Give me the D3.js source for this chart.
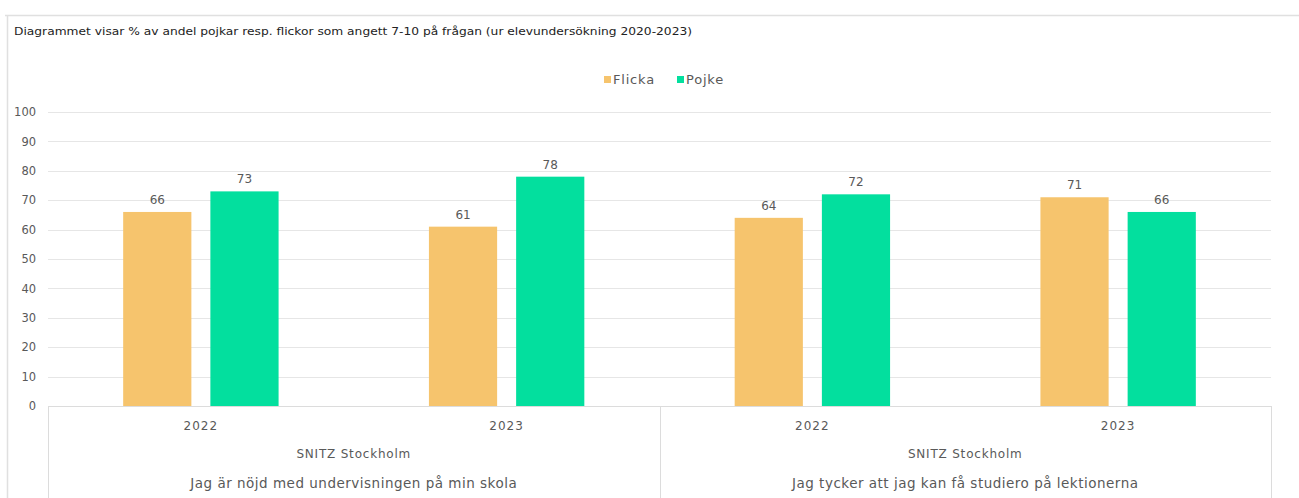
<!DOCTYPE html>
<html>
<head>
<meta charset="utf-8">
<script src="https://cdn.jsdelivr.net/npm/d3@7"></script>
<style>
  body { margin: 0; background: #fff; }
  svg { display: block; font-family: 'DejaVu Sans', sans-serif; }
  .grid line { stroke: #e6e6e6; }
  .tick text { fill: #595959; }
</style>
</head>
<body>
<svg width="1299" height="498"></svg>
<script>
const title = 'Diagrammet visar % av andel pojkar resp. flickor som angett 7-10 på frågan (ur elevundersökning 2020-2023)';
const series = ['Flicka', 'Pojke'];
const colors = ['#f6c46d', '#03df9e'];
const years = ['2022', '2023', '2022', '2023'];
const regions = ['SNITZ Stockholm', 'SNITZ Stockholm'];
const questions = ['Jag är nöjd med undervisningen på min skola', 'Jag tycker att jag kan få studiero på lektionerna'];
const flicka = [66, 61, 64, 71];
const pojke = [73, 78, 72, 66];
const yTicks = [0, 10, 20, 30, 40, 50, 60, 70, 80, 90, 100];

const values = [flicka, pojke];
const svg = d3.select('svg');

// frame
svg.append('path')
    .attr('d', 'M5,15.5H1299M7.5,15V498')
    .attr('fill', 'none')
    .attr('stroke', '#e0e0e0')
    .attr('stroke-width', 1.5);

svg.append('text')
    .attr('x', 14)
    .attr('y', 35)
    .attr('font-size', 10)
    .attr('fill', '#222')
    .attr('textLength', 678)
    .attr('lengthAdjust', 'spacingAndGlyphs')
    .text(title);

const plotLeft = 48, plotRight = 1271, plotTop = 112, plotBottom = 406;

const x0 = d3.scaleBand()
    .domain(d3.range(years.length))
    .range([plotLeft, plotRight]);

const x1 = d3.scaleBand()
    .domain(series)
    .range([0, x0.bandwidth()])
    .paddingInner(0.218)
    .paddingOuter(0.862);

const y = d3.scaleLinear()
    .domain([0, 100])
    .range([plotBottom, plotTop]);

// gridlines
svg.append('g')
    .attr('class', 'grid')
    .selectAll('line')
    .data(yTicks.slice(1))
    .enter().append('line')
    .attr('x1', plotLeft)
    .attr('x2', plotRight)
    .attr('y1', d => Math.round(y(d)) + 0.5)
    .attr('y2', d => Math.round(y(d)) + 0.5);

// y axis
const yAxis = svg.append('g')
    .attr('transform', `translate(${plotLeft - 12},0)`)
    .call(d3.axisLeft(y).tickValues(yTicks).tickSize(0).tickPadding(0));
yAxis.select('.domain').remove();
yAxis.selectAll('text')
    .attr('font-size', 11.5)
    .attr('font-family', 'DejaVu Sans, sans-serif')
    .attr('textLength', d => String(d).length * 7.3)
    .attr('lengthAdjust', 'spacingAndGlyphs');

// bars
const groups = svg.append('g')
    .selectAll('g')
    .data(d3.range(years.length))
    .enter().append('g')
    .attr('transform', i => `translate(${x0(i)},0)`);

groups.selectAll('rect')
    .data(i => series.map((s, k) => ({s, k, v: values[k][i]})))
    .enter().append('rect')
    .attr('x', d => x1(d.s))
    .attr('width', x1.bandwidth())
    .attr('y', d => y(d.v))
    .attr('height', d => y(0) - y(d.v))
    .attr('fill', d => colors[d.k]);

groups.selectAll('text')
    .data(i => series.map((s, k) => ({s, k, v: values[k][i]})))
    .enter().append('text')
    .attr('x', d => x1(d.s) + x1.bandwidth() / 2)
    .attr('y', d => y(d.v) - 8)
    .attr('text-anchor', 'middle')
    .attr('font-size', 12)
    .attr('fill', '#595959')
    .text(d => d.v);

// category axis (multi-level)
const axisLines = svg.append('g')
    .attr('stroke', '#dcdcdc')
    .attr('fill', 'none');
axisLines.append('line')
    .attr('x1', plotLeft).attr('x2', plotRight)
    .attr('y1', plotBottom + 0.5).attr('y2', plotBottom + 0.5);
[0, 2, 4].forEach(i => {
    const xx = i < years.length ? x0(i) : plotRight;
    axisLines.append('line')
        .attr('x1', Math.round(xx) + 0.5).attr('x2', Math.round(xx) + 0.5)
        .attr('y1', plotBottom).attr('y2', 498);
});

svg.append('g')
    .selectAll('text')
    .data(years)
    .enter().append('text')
    .attr('x', (d, i) => x0(i) + x0.bandwidth() / 2)
    .attr('y', 430)
    .attr('text-anchor', 'middle')
    .attr('font-size', 12)
    .attr('letter-spacing', 1)
    .attr('fill', '#595959')
    .text(d => d);

const pairMid = k => (x0(2 * k) + x0(2 * k + 1) + x0.bandwidth()) / 2;

svg.append('g')
    .selectAll('text')
    .data(regions)
    .enter().append('text')
    .attr('x', (d, k) => pairMid(k))
    .attr('y', 458)
    .attr('text-anchor', 'middle')
    .attr('font-size', 12)
    .attr('letter-spacing', 0.8)
    .attr('fill', '#595959')
    .text(d => d);

svg.append('g')
    .selectAll('text')
    .data(questions)
    .enter().append('text')
    .attr('x', (d, k) => pairMid(k))
    .attr('y', 488)
    .attr('text-anchor', 'middle')
    .attr('font-size', 13.5)
    .attr('letter-spacing', 0.5)
    .attr('fill', '#595959')
    .text(d => d);

// legend
const legend = svg.append('g');
const legendX = [604, 677];
series.forEach((s, k) => {
    legend.append('rect')
        .attr('x', legendX[k])
        .attr('y', 76)
        .attr('width', 7)
        .attr('height', 7)
        .attr('fill', colors[k]);
    legend.append('text')
        .attr('x', legendX[k] + 9)
        .attr('y', 84)
        .attr('font-size', 13)
        .attr('letter-spacing', 0.8)
        .attr('fill', '#595959')
        .text(s);
});
</script>
</body>
</html>
